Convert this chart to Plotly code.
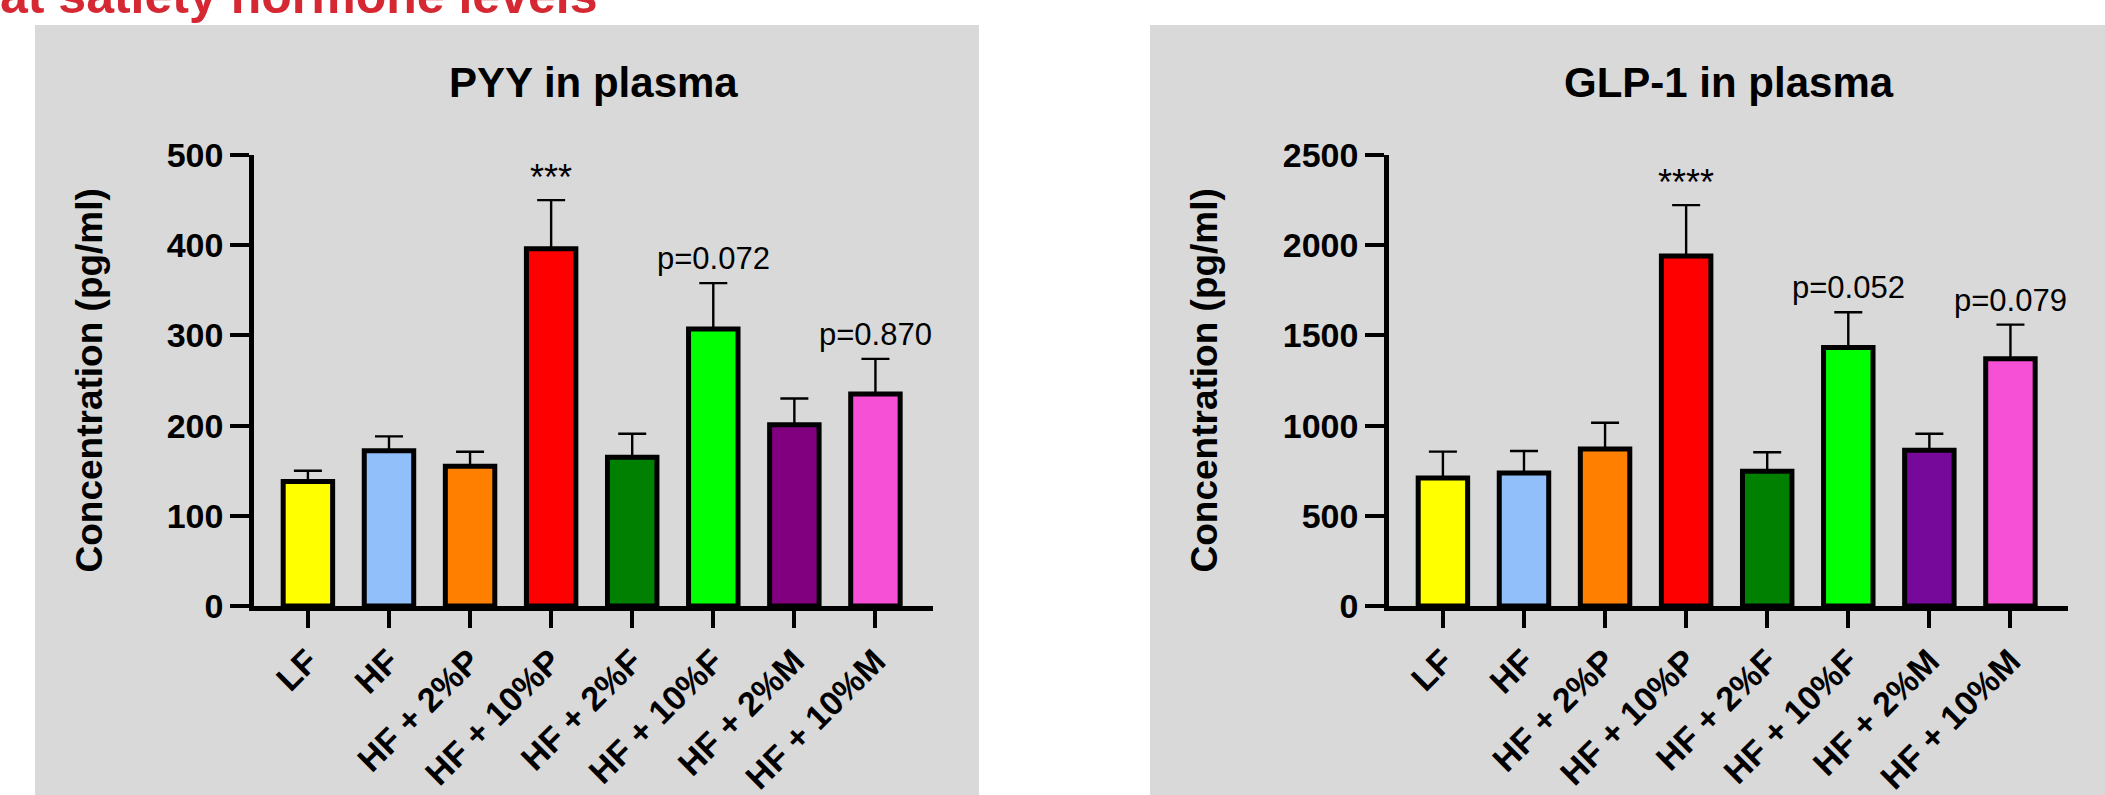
import plotly.graph_objects as go

# ---------------- data ----------------
categories = ["LF", "HF", "HF + 2%P", "HF + 10%P", "HF + 2%F", "HF + 10%F", "HF + 2%M", "HF + 10%M"]

pyy_mean = [138, 172, 155, 396, 165, 307, 201, 235]
pyy_sem = [12, 16, 16, 54, 26, 51, 29, 39]
pyy_sig = ["", "", "", "***", "", "p=0.072", "", "p=0.870"]
pyy_ticks = [0, 100, 200, 300, 400, 500]

glp1_mean = [710, 737, 870, 1940, 747, 1433, 863, 1370]
glp1_sem = [146, 122, 146, 282, 105, 195, 92, 190]
glp1_sig = ["", "", "", "****", "", "p=0.052", "", "p=0.079"]
glp1_ticks = [0, 500, 1000, 1500, 2000, 2500]

pyy_colors = ["#ffff00", "#90bff9", "#ff8000", "#ff0000", "#008000", "#00ff00", "#800080", "#f550d6"]
glp1_colors = ["#ffff00", "#90bff9", "#ff8000", "#ff0000", "#008000", "#00ff00", "#76089a", "#f550d6"]

titles = ["PYY in plasma", "GLP-1 in plasma"]
y_title = "Concentration (pg/ml)"
heading = "at satiety hormone levels"

# ---------------- layout helpers ----------------
W, H = 2105, 795
FONT = "Liberation Sans, Arial, sans-serif"
GRAY = "#d9d9d9"


def fx(px):
    return px / W


def fy(py):
    return 1 - py / H


fig = go.Figure()

panels = [
    dict(mean=pyy_mean, sem=pyy_sem, sig=pyy_sig, ticks=pyy_ticks, colors=pyy_colors,
         xa="x", ya="y", x0=254, x1=933, title=titles[0], ytitle_x=89, panel=(35, 979)),
    dict(mean=glp1_mean, sem=glp1_sem, sig=glp1_sig, ticks=glp1_ticks, colors=glp1_colors,
         xa="x2", ya="y2", x0=1389, x1=2068, title=titles[1], ytitle_x=1204, panel=(1150, 2120)),
]

annotations = []
shapes = []
for i, p in enumerate(panels):
    fig.add_trace(go.Bar(
        x=categories, y=p["mean"], xaxis=p["xa"], yaxis=p["ya"],
        marker=dict(color=p["colors"], line=dict(color="black", width=5)),
        error_y=dict(type="data", array=p["sem"], arrayminus=[0] * len(p["sem"]), symmetric=False,
                     color="black", thickness=2.4, width=14),
        showlegend=False, hoverinfo="skip",
    ))
    sfx = "" if i == 0 else str(i + 1)
    axis_common = dict(showline=True, linecolor="black", linewidth=4.5, ticks="outside",
                       tickcolor="black", tickwidth=4, showgrid=False, zeroline=False,
                       fixedrange=True, automargin=False)
    fig.update_layout(**{
        "xaxis" + sfx: dict(domain=[fx(p["x0"]), fx(p["x1"])], range=[-0.665, 7.71],
                            anchor="y" + sfx, ticklen=17, tickangle=-45,
                            tickfont=dict(family=FONT, size=34, color="black", weight="bold"),
                            **axis_common),
        "yaxis" + sfx: dict(domain=[fy(606), fy(155)], range=[0, p["ticks"][-1]],
                            tickvals=p["ticks"], anchor="x" + sfx, ticklen=19,
                            tickfont=dict(family=FONT, size=34, color="black", weight="bold"),
                            **axis_common),
    })
    # significance labels above error bars
    for c, m, s, t in zip(categories, p["mean"], p["sem"], p["sig"]):
        if not t:
            continue
        star = t.startswith("*")
        annotations.append(dict(
            x=c, y=m + s, xref=p["xa"], yref=p["ya"], text=t, showarrow=False,
            yanchor="bottom", xanchor="center", yshift=0 if star else 5,
            font=dict(family=FONT, size=36 if star else 31, color="black"),
        ))
    # panel title
    annotations.append(dict(
        x=fx((p["x0"] + p["x1"]) / 2), y=fy(82.4), xref="paper", yref="paper",
        text=p["title"], showarrow=False, xanchor="center", yanchor="middle",
        font=dict(family=FONT, size=42, color="black", weight="bold"),
    ))
    # y-axis title
    annotations.append(dict(
        x=fx(p["ytitle_x"]), y=fy(380.5), xref="paper", yref="paper",
        text=y_title, showarrow=False, xanchor="center", yanchor="middle", textangle=-90,
        font=dict(family=FONT, size=37, color="black", weight="bold"),
    ))
    # gray panel
    shapes.append(dict(type="rect", xref="paper", yref="paper",
                       x0=fx(p["panel"][0]), x1=fx(p["panel"][1]), y0=-0.05, y1=fy(25),
                       fillcolor=GRAY, line=dict(width=0), layer="below"))

# cropped red heading at the top
annotations.append(dict(
    x=fx(-2), y=fy(-3.5), xref="paper", yref="paper", text=heading, showarrow=False,
    xanchor="left", yanchor="middle",
    font=dict(family=FONT, size=50, color="#d52833", weight="bold"),
))

fig.update_layout(
    width=W, height=H, margin=dict(l=0, r=0, t=0, b=0, pad=0, autoexpand=False),
    paper_bgcolor="white", plot_bgcolor=GRAY, bargap=0.39,
    annotations=annotations, shapes=shapes,
    font=dict(family=FONT, color="black"),
)

fig.write_html("out.html", config={"displayModeBar": False},
               post_script="document.body.style.margin='0';document.body.style.overflow='hidden';")
